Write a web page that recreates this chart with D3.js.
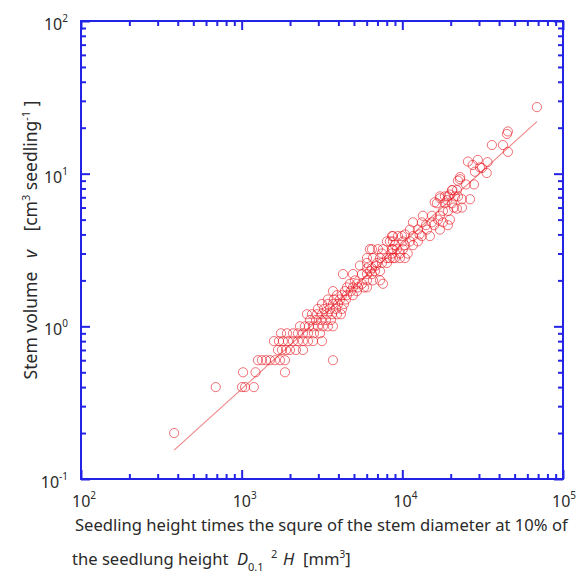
<!DOCTYPE html>
<meta charset="utf-8">
<style>
body { margin: 0; background: #fff; }
svg text { font-family: "Noto Sans", "Liberation Sans", sans-serif; fill: #2a2a2a; white-space: pre; }
.frame { fill: none; stroke: #2323e8; stroke-width: 2; }
.tick line { stroke: #2323e8; stroke-width: 2; }
.dot { fill: none; stroke: #e8141e; stroke-opacity: 0.6; stroke-width: 1; }
.fit { fill: none; stroke: #f08a8a; stroke-width: 1.2; }
</style>
<body>
<script src="https://d3js.org/d3.v7.min.js"></script>
<script>

// seedling height x squared stem diameter (mm3) and stem volume (cm3), read row by row
var d2h = [
  380, 690, 1005, 1050, 1190, 1020, 1220, 1860,
  1263, 1337, 1416, 1500, 1612, 1731, 1860, 3700,
  1682, 1782, 1887, 1999, 2177, 2406,
  1589, 1707, 1807, 1942, 2086, 2241, 2406, 2586, 2779, 3161,
  1757, 1914, 2086, 2241, 2406, 2586, 2819, 3072,
  2306, 2477, 2623, 2779, 2985, 3206, 3443, 3700,
  2661, 2901, 3115, 3346, 3595,
  2549, 2739, 2943, 3161, 3395, 3647, 3918, 4150,
  2985, 3252, 3544, 3863, 4210,
  3161, 3443, 3700, 3975, 4332,
  3443, 3753, 4091, 4457,
  3918, 4210, 4522, 4928,
  3700, 4395, 4789, 5218,
  4522, 4928, 5293, 5771, 6024,
  4720, 5218, 5607, 7576,
  5070, 6024, 6563, 7256,
  4271, 4928, 5607, 6024, 6470,
  6285, 6753, 7256,
  5446, 6852, 6024, 6470,
  6024, 6951, 7468, 8021,
  6024, 6563, 7256, 8021, 8373, 8741, 8995, 9663, 10380,
  7468, 8617, 9663, 10800,
  6285, 6470, 7051, 7576, 8617, 8741, 9256, 10085,
  8995, 10380, 11640,
  8021, 8373, 8741, 10085, 11150, 12500,
  8617, 8741, 9388, 9943, 11640, 13240, 14850,
  10380, 12800,
  11150, 12500, 14230, 17140,
  14030, 15740, 19220,
  11640, 13240, 15290, 17900,
  16670, 19780,
  13430, 15290, 17140,
  17900, 19220, 21870,
  20950, 23500,
  16420, 18410, 20360,
  23500, 26370,
  17140, 19220, 21250,
  20360, 21870,
  24890, 27930,
  22190, 22830,
  25600, 27400, 29500, 30400, 28300, 31300, 33900, 33500, 22900,
  36100, 42300, 45400, 45400, 44800,
  20500, 19800, 18400, 17200, 15900, 22200, 19000,
  68800
];

var volume = [
  0.2, 0.4, 0.4, 0.4, 0.4, 0.5, 0.5, 0.5,
  0.6, 0.6, 0.6, 0.6, 0.6, 0.6, 0.6, 0.6,
  0.7, 0.7, 0.7, 0.7, 0.7, 0.7,
  0.8, 0.8, 0.8, 0.8, 0.8, 0.8, 0.8, 0.8, 0.8, 0.8,
  0.9, 0.9, 0.9, 0.9, 0.9, 0.9, 0.9, 0.9,
  1.0, 1.0, 1.0, 1.0, 1.0, 1.0, 1.0, 1.0,
  1.1, 1.1, 1.1, 1.1, 1.1,
  1.2, 1.2, 1.2, 1.2, 1.2, 1.2, 1.2, 1.2,
  1.3, 1.3, 1.3, 1.3, 1.3,
  1.4, 1.4, 1.4, 1.4, 1.4,
  1.5, 1.5, 1.5, 1.5,
  1.6, 1.6, 1.6, 1.6,
  1.7, 1.7, 1.7, 1.7,
  1.8, 1.8, 1.8, 1.8, 1.8,
  1.9, 1.9, 1.9, 1.9,
  2.0, 2.0, 2.0, 2.0,
  2.2, 2.2, 2.2, 2.2, 2.2,
  2.3, 2.3, 2.3,
  2.5, 2.5, 2.4, 2.4,
  2.6, 2.6, 2.6, 2.6,
  2.8, 2.8, 2.8, 2.8, 2.8, 2.8, 2.8, 2.8, 2.8,
  3.0, 3.0, 3.0, 3.0,
  3.2, 3.2, 3.2, 3.2, 3.2, 3.2, 3.2, 3.2,
  3.4, 3.4, 3.4,
  3.6, 3.6, 3.6, 3.6, 3.6, 3.6,
  3.9, 3.9, 3.9, 3.9, 3.9, 3.9, 3.9,
  4.0, 4.0,
  4.3, 4.3, 4.3, 4.3,
  4.6, 4.6, 4.6,
  4.8, 4.8, 4.8, 4.8,
  5.0, 5.0,
  5.3, 5.3, 5.3,
  5.7, 5.7, 5.9,
  6.0, 6.0,
  6.4, 6.4, 6.4,
  6.8, 6.8,
  7.1, 7.1, 7.1,
  7.8, 7.8,
  8.5, 8.5,
  9.0, 9.2,
  12.0, 11.4, 12.3, 11.0, 10.3, 10.9, 11.9, 10.1, 9.5,
  15.4, 15.4, 13.9, 18.9, 18.2,
  7.8, 7.3, 7.1, 6.9, 6.5, 7.1, 6.7,
  27.3
];

// power-law fit v = a * (D2H)^b, drawn over the measured range
var fitA = 5.38e-4;
var fitB = 0.953;
var fitRange = [380, 68800];

var xMajor = [1e2, 1e3, 1e4, 1e5];
var yMajor = [1e-1, 1e0, 1e1, 1e2];

var margin = {top: 21, right: 13, bottom: 94, left: 81};
var width = 576 - margin.left - margin.right;
var height = 573 - margin.top - margin.bottom;

var x = d3.scaleLog().domain([1e2, 1e5]).range([0, width]);
var y = d3.scaleLog().domain([1e-1, 1e2]).range([height, 0]);

var svg = d3.select("body").append("svg")
    .attr("width", 576)
    .attr("height", 573);

var g = svg.append("g")
    .attr("transform", "translate(" + margin.left + "," + margin.top + ")");

//
// ticks on all four sides, pointing inward
//
function isMajor(v) { return Math.abs(Math.log10(v) - Math.round(Math.log10(v))) < 1e-9; }
var xMinor = x.ticks().filter(function(v) { return !isMajor(v); });
var yMinor = y.ticks().filter(function(v) { return !isMajor(v); });

function addAxis(axis, tx, ty) {
  g.append("g")
      .attr("transform", "translate(" + tx + "," + ty + ")")
      .call(axis)
      .call(function(s) { s.select(".domain").remove(); });
}

[[xMajor, 9], [xMinor, 5]].forEach(function(p) {
  addAxis(d3.axisBottom(x).tickValues(p[0]).tickSize(-p[1]).tickFormat(""), 0, height);
  addAxis(d3.axisTop(x).tickValues(p[0]).tickSize(-p[1]).tickFormat(""), 0, 0);
});
[[yMajor, 9], [yMinor, 5]].forEach(function(p) {
  addAxis(d3.axisLeft(y).tickValues(p[0]).tickSize(-p[1]).tickFormat(""), 0, 0);
  addAxis(d3.axisRight(y).tickValues(p[0]).tickSize(-p[1]).tickFormat(""), width, 0);
});

g.append("rect")
    .attr("class", "frame")
    .attr("width", width)
    .attr("height", height);

//
// tick labels as 10 with superscript exponents
//
xMajor.forEach(function(v, i) {
  var t = g.append("text")
      .attr("x", x(v) - (i === xMajor.length - 1 ? 11 : 9))
      .attr("y", height + 28)
      .attr("font-size", 16);
  t.append("tspan").text("10");
  t.append("tspan").attr("font-size", 10).attr("dy", -8).text(Math.round(Math.log10(v)));
});

yMajor.forEach(function(v) {
  var t = g.append("text")
      .attr("x", -13)
      .attr("y", y(v) + 9)
      .attr("text-anchor", "end")
      .attr("font-size", 16);
  t.append("tspan").text("10");
  t.append("tspan").attr("font-size", 10).attr("dy", -8).text(Math.round(Math.log10(v)));
});

//
// fit line and points
//
var fitLine = d3.line()
    .x(function(d) { return x(d); })
    .y(function(d) { return y(fitA * Math.pow(d, fitB)); });

g.append("path")
    .attr("class", "fit")
    .attr("d", fitLine(fitRange));

g.selectAll(".dot")
    .data(d2h)
  .enter().append("circle")
    .attr("class", "dot")
    .attr("cx", function(d) { return x(d); })
    .attr("cy", function(d, i) { return y(volume[i]); })
    .attr("r", 4.6);

//
// axis titles
//
var yTitle = svg.append("text")
    .attr("transform", "translate(37,240) rotate(-90)")
    .attr("text-anchor", "middle")
    .attr("font-size", 17.5);
yTitle.append("tspan").text("Stem volume   ");
yTitle.append("tspan").attr("font-style", "italic").text("v");
yTitle.append("tspan").text("    [cm");
yTitle.append("tspan").attr("font-size", 11).attr("dy", -7).text("3");
yTitle.append("tspan").attr("dy", 7).text(" seedling");
yTitle.append("tspan").attr("font-size", 11).attr("dy", -7).text("-1");
yTitle.append("tspan").attr("dy", 7).text(" ]");

svg.append("text")
    .attr("x", 75)
    .attr("y", 531)
    .attr("font-size", 16.6)
    .text("Seedling height times the squre of the stem diameter at 10% of");

var xTitle2 = svg.append("text")
    .attr("x", 72)
    .attr("y", 565)
    .attr("font-size", 16.6);
xTitle2.append("tspan").text("the seedlung height");
xTitle2.append("tspan").attr("x", 237).attr("font-style", "italic").text("D");
xTitle2.append("tspan").attr("font-size", 11).attr("dy", 6).text("0.1");
xTitle2.append("tspan").attr("x", 271).attr("font-size", 11).attr("dy", -13).text("2");
xTitle2.append("tspan").attr("x", 283).attr("dy", 7).attr("font-style", "italic").text("H");
xTitle2.append("tspan").attr("x", 303).text("[mm");
xTitle2.append("tspan").attr("font-size", 10).attr("dy", -7).text("3");
xTitle2.append("tspan").attr("dy", 7).text("]");

</script>
</body>
